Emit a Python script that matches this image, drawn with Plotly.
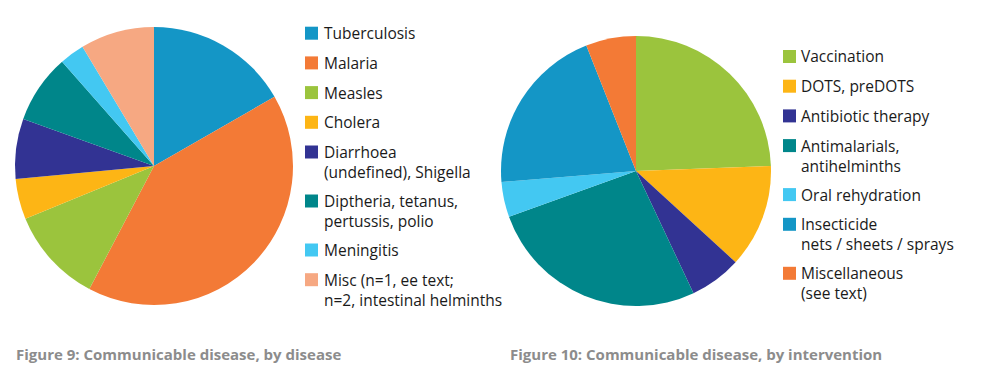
import plotly.graph_objects as go

W, H = 982, 391

# ---- Data (percent of cases) ----
disease_labels = ["Tuberculosis", "Malaria", "Measles", "Cholera",
                  "Diarrhoea<br>(undefined), Shigella",
                  "Diptheria, tetanus,<br>pertussis, polio",
                  "Meningitis",
                  "Misc (n=1, ee text;<br>n=2, intestinal helminths"]
disease_values = [16.7, 41.0, 11.1, 4.7, 7.0, 8.0, 2.9, 8.6]
disease_colors = ["#1496c6", "#f37a36", "#9bc43d", "#fdb515",
                  "#323393", "#00868a", "#43c8f2", "#f6a882"]

interv_labels = ["Vaccination", "DOTS, preDOTS", "Antibiotic therapy",
                 "Antimalarials,<br>antihelminths", "Oral rehydration",
                 "Insecticide<br>nets / sheets / sprays",
                 "Miscellaneous<br>(see text)"]
interv_values = [24.4, 12.4, 6.2, 26.5, 4.2, 20.3, 6.0]
interv_colors = ["#9bc43d", "#fdb515", "#323393", "#00868a",
                 "#43c8f2", "#1496c6", "#f37a36"]

captions = ["Figure 9: Communicable disease, by disease",
            "Figure 10: Communicable disease, by intervention"]


def px(x):
    return x / W


def py(y):
    return 1 - y / H


fig = go.Figure()

fig.add_trace(go.Pie(
    labels=disease_labels, values=disease_values, sort=False,
    direction="clockwise", rotation=0, textinfo="none",
    marker=dict(colors=disease_colors, line=dict(width=0)),
    domain=dict(x=[px(15), px(293)], y=[py(305), py(27)]),
    showlegend=False, hoverinfo="label+percent"))

fig.add_trace(go.Pie(
    labels=interv_labels, values=interv_values, sort=False,
    direction="clockwise", rotation=0, textinfo="none",
    marker=dict(colors=interv_colors, line=dict(width=0)),
    domain=dict(x=[px(501), px(771)], y=[py(306), py(36)]),
    showlegend=False, hoverinfo="label+percent"))

font_legend = dict(family="Open Sans, Lato, sans-serif", size=15.5, color="#1a1a1a")


def add_legend(labels, colors, sw_x, txt_x, top):
    y = top
    for lab, col in zip(labels, colors):
        fig.add_shape(type="rect", xref="paper", yref="paper",
                      x0=px(sw_x), x1=px(sw_x + 13), y0=py(y + 13), y1=py(y),
                      fillcolor=col, line=dict(width=0))
        fig.add_annotation(text=lab, xref="paper", yref="paper",
                           x=px(txt_x), y=py(y - 6.5), xanchor="left", yanchor="top",
                           align="left", showarrow=False, font=font_legend)
        nlines = lab.count("<br>") + 1
        y += 29.7 + (nlines - 1) * 19.3


add_legend(disease_labels, disease_colors, 305, 322, 26.7)
add_legend(interv_labels, interv_colors, 783, 799, 50)

font_cap = dict(family="Open Sans, sans-serif", size=15, color="#8c8c8c")
fig.add_annotation(text="<b>" + captions[0] + "</b>", xref="paper", yref="paper",
                   x=px(14), y=py(354), xanchor="left", yanchor="middle",
                   showarrow=False, font=font_cap)
fig.add_annotation(text="<b>" + captions[1] + "</b>", xref="paper", yref="paper",
                   x=px(508), y=py(354), xanchor="left", yanchor="middle",
                   showarrow=False, font=font_cap)

fig.update_layout(width=W, height=H, margin=dict(l=0, r=0, t=0, b=0),
                  paper_bgcolor="white", plot_bgcolor="white")

fig.write_html("out.html", config={"displayModeBar": False},
               post_script="document.body.style.margin='0';document.body.style.overflow='hidden';")
